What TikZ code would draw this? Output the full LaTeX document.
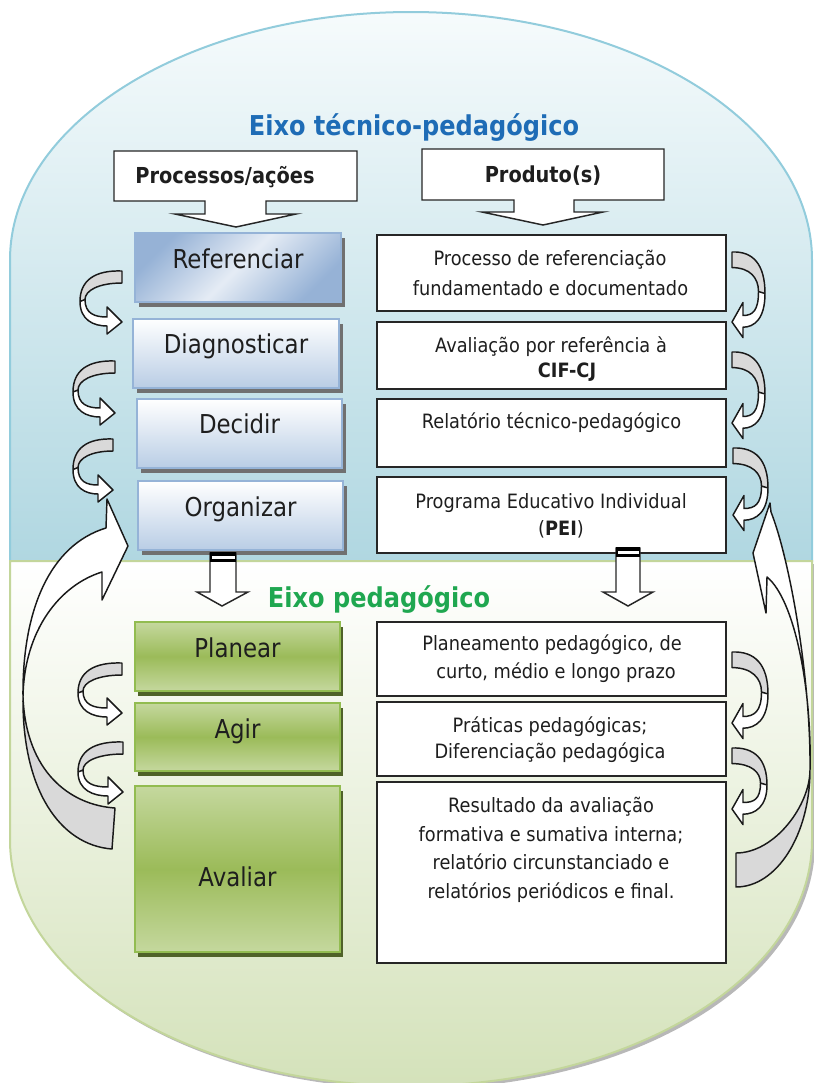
\documentclass[tikz,border=0pt]{standalone}
\usepackage{fontspec}
\setmainfont{DejaVu Sans}[FakeStretch=0.88]
\newfontfamily\prodfont{DejaVu Sans}[FakeStretch=0.9]
\usetikzlibrary{shadows}
\definecolor{bluetop}{RGB}{246,251,252}
\definecolor{bluebot}{RGB}{176,215,225}
\definecolor{blueedge}{RGB}{146,204,220}
\definecolor{greenbot}{RGB}{212,226,186}
\definecolor{greenedge}{RGB}{195,214,155}
\definecolor{titleblue}{RGB}{30,108,182}
\definecolor{titlegreen}{RGB}{31,167,80}
\definecolor{pboxedge}{RGB}{149,179,215}
\definecolor{pboxbot}{RGB}{185,205,229}
\definecolor{pboxref}{RGB}{150,178,214}
\definecolor{gboxlight}{RGB}{197,216,158}
\definecolor{gboxmid}{RGB}{155,187,89}
\definecolor{gboxedge}{RGB}{146,188,80}
\definecolor{gshadow}{RGB}{79,98,40}
\definecolor{bshadow}{RGB}{112,112,112}
\definecolor{arrgray}{RGB}{217,217,217}
\definecolor{txt}{RGB}{30,30,30}

\tikzset{
  arrline/.style={draw=black!90, line width=1.1pt, line join=round},
  lbl/.style={font=\fontsize{19.5}{23}\selectfont, text=txt, anchor=base, inner sep=0pt},
  ptxt/.style={font=\prodfont\fontsize{14.8}{17}\selectfont, text=txt, anchor=base, inner sep=0pt},
  hdr/.style={font=\bfseries\fontsize{16.5}{20}\selectfont, text=txt, anchor=base, inner sep=0pt},
  ttl/.style={font=\bfseries\fontsize{20.5}{24}\selectfont, anchor=base, inner sep=0pt},
  pbox/.style={draw=pboxedge, line width=1.5pt, top color=white, bottom color=pboxbot,
    minimum width=154pt, minimum height=51.75pt, inner sep=0pt,
    drop shadow={shadow xshift=3pt, shadow yshift=-3.75pt, fill=bshadow, opacity=1}},
  refshade/.style={top color=pboxref, bottom color=pboxref, middle color=white!75!pboxref, shading angle=45},
  gbox/.style={draw=gboxedge, line width=1.5pt, top color=gboxlight, bottom color=gboxlight,
    middle color=gboxmid, minimum width=153.75pt, inner sep=0pt,
    drop shadow={shadow xshift=2.25pt, shadow yshift=-3.75pt, fill=gshadow, opacity=1}},
  prodbox/.style={draw=black!85, line width=1.2pt, fill=white, minimum width=261.75pt, inner sep=0pt},
  callout/.style={draw=black!85, line width=1.1pt, fill=white, line join=miter},
}

% U-turn block arrow: #1 direction (-1 bulge left, +1 bulge right), #2 tail x, #3 tail top y,
% #4 extreme x, #5 tip y, #6 scale, #7 head length
\newcommand\uarrow[7]{%
\begingroup
\pgfmathsetmacro\uaD{#1}%
\pgfmathsetmacro\uaT{#2}%
\pgfmathsetmacro\uaY{#3}%
\pgfmathsetmacro\uaE{#4}%
\pgfmathsetmacro\uaH{#5}%
\pgfmathsetmacro\uaS{#6}%
\pgfmathsetmacro\uaDep{abs(\uaE-\uaT)}%
\pgfmathsetmacro\uaW{12*\uaS}%
\pgfmathsetmacro\uaN{\uaT+\uaD*#7}%
\pgfmathsetmacro\uaM{(\uaY+\uaH)/2+5*\uaS}%
\pgfmathsetmacro\uaEi{\uaE-\uaD*5*\uaS}%
\pgfmathsetmacro\uaAx{\uaT+\uaD*0.64*\uaDep}%
\pgfmathsetmacro\uaAy{\uaY-1}%
\pgfmathsetmacro\uaBy{\uaY+0.3*(\uaM-\uaY)}%
\pgfmathsetmacro\uaCy{\uaH-0.1*(\uaH-\uaM)}%
\pgfmathsetmacro\uaNlo{\uaH+4*\uaS}%
\pgfmathsetmacro\uaDx{\uaN+\uaD*0.5*(\uaDep-#7)}%
\pgfmathsetmacro\uaBlo{\uaH+12*\uaS}%
\pgfmathsetmacro\uaBup{\uaH-15*\uaS}%
\pgfmathsetmacro\uaNup{\uaH-5*\uaS}%
\pgfmathsetmacro\uaEx{\uaN+\uaD*0.45*(\uaDep-#7)}%
\pgfmathsetmacro\uaFy{\uaM+0.6*(\uaH-\uaM)}%
\pgfmathsetmacro\uaMe{\uaM-2}%
\pgfmathsetmacro\uaGy{\uaY+\uaW+0.4*(\uaM-\uaY-\uaW)}%
\pgfmathsetmacro\uaHx{\uaT+\uaD*0.55*\uaDep}%
\pgfmathsetmacro\uaYw{\uaY+\uaW}%
\pgfmathsetmacro\uaYc{\uaM-1}%
\def\uapath{(\uaT,\uaY) .. controls (\uaAx,\uaAy) and (\uaE,\uaBy) .. (\uaE,\uaM)
  .. controls (\uaE,\uaCy) and (\uaDx,\uaNlo) .. (\uaN,\uaNlo) -- (\uaN,\uaBlo) -- (\uaT,\uaH)
  -- (\uaN,\uaBup) -- (\uaN,\uaNup) .. controls (\uaEx,\uaNup) and (\uaEi,\uaFy) .. (\uaEi,\uaMe)
  .. controls (\uaEi,\uaGy) and (\uaHx,\uaYw) .. (\uaT,\uaYw) -- cycle}%
\fill[white] \uapath;
\begin{scope}\clip (0,0) rectangle (814,\uaYc); \fill[arrgray] \uapath; \end{scope}
\draw[arrline] \uapath;
\draw[arrline] (\uaE,\uaM) -- (\uaEi,\uaMe);
\endgroup}

\begin{document}
\begin{tikzpicture}[x=0.75pt, y=-0.75pt]
\useasboundingbox (0,0) rectangle (814,1083);

% ---------- background regions ----------
\fill[black!35, opacity=0.8] (13,564) -- (815,564) -- (815,843) .. controls (815,980) and (635.5,1089) .. (414,1089)
  .. controls (192.5,1089) and (13,980) .. (13,843) -- cycle;
\path[draw=blueedge, line width=1.5pt, top color=bluetop, bottom color=bluebot]
  (10,561) -- (10,260) .. controls (10,123) and (189.5,12) .. (411,12)
  .. controls (632.5,12) and (812,123) .. (812,260) -- (812,561) -- cycle;
\path[draw=greenedge, line width=1.5pt, top color=white, bottom color=greenbot]
  (10,561) -- (812,561) -- (812,840) .. controls (812,976) and (632.5,1086) .. (411,1086)
  .. controls (189.5,1086) and (10,976) .. (10,840) -- cycle;

% ---------- titles ----------
\node[ttl, text=titleblue] (ttech) at (414,135) {Eixo técnico-pedagógico};
\node[ttl, text=titlegreen] (tped) at (379,607) {Eixo pedagógico};

% ---------- header callouts ----------
\draw[callout] (114,151) -- (357,151) -- (357,201) -- (266,201) -- (266,214) -- (296,214)
  -- (236,227) -- (175,214) -- (205,214) -- (205,201) -- (114,201) -- cycle;
\node[hdr] (hproc) at (225,183) {Processos/ações};
\draw[callout] (422,149) -- (664,149) -- (664,200) -- (574,200) -- (574,212) -- (603,212)
  -- (543,225) -- (482,212) -- (514,212) -- (514,200) -- (422,200) -- cycle;
\node[hdr] (hprod) at (543,182) {Produto(s)};

% ---------- process boxes (blue) ----------
\node[pbox, refshade] (ref) at (238,267.5) {};
\node[pbox] (diag) at (236,353) {};
\node[pbox] (dec) at (239.5,433.5) {};
\node[pbox] (org) at (240.5,515.5) {};
\node[lbl] (tref) at (238,268) {Referenciar};
\node[lbl] (tdiag) at (236,353) {Diagnosticar};
\node[lbl] (tdec) at (239.5,433) {Decidir};
\node[lbl] (torg) at (240.5,516.5) {Organizar};

% ---------- process boxes (green) ----------
\node[gbox, minimum height=51.75pt] (plan) at (237.5,656.5) {};
\node[gbox, minimum height=51pt] (agir) at (237.5,737) {};
\node[gbox, minimum height=124.5pt] (aval) at (237.5,869) {};
\node[lbl] (tplan) at (237.5,657) {Planear};
\node[lbl] (tagir) at (237.5,738) {Agir};
\node[lbl] (taval) at (237.5,886) {Avaliar};

% ---------- product boxes ----------
\node[prodbox, minimum height=57pt] (p1) at (551.5,273) {};
\node[prodbox, minimum height=50.25pt] (p2) at (551.5,355.5) {};
\node[prodbox, minimum height=51pt] (p3) at (551.5,433) {};
\node[prodbox, minimum height=57pt] (p4) at (551.5,515) {};
\node[prodbox, minimum height=55.5pt] (p5) at (551.5,659) {};
\node[prodbox, minimum height=55.5pt] (p6) at (551.5,739) {};
\node[prodbox, minimum height=135.75pt] (p7) at (551.5,872.5) {};

\node[ptxt] (p1a) at (550,265) {Processo de referenciação};
\node[ptxt] (p1b) at (550.5,295) {fundamentado e documentado};
\node[ptxt] (p2a) at (551,352) {Avaliação por referência à};
\node[ptxt] (p2b) at (567,377) {\textbf{CIF-CJ}};
\node[ptxt] (p3a) at (551.5,428) {Relatório técnico-pedagógico};
\node[ptxt] (p4a) at (551,508) {Programa Educativo Individual};
\node[ptxt] (p4b) at (561,535) {(\textbf{PEI})};
\node[ptxt] (p5a) at (552,650) {Planeamento pedagógico, de};
\node[ptxt] (p5b) at (556,678) {curto, médio e longo prazo};
\node[ptxt] (p6a) at (550,732) {Práticas pedagógicas;};
\node[ptxt] (p6b) at (550,758) {Diferenciação pedagógica};
\node[ptxt] (p7a) at (551,812) {Resultado da avaliação};
\node[ptxt] (p7b) at (551,841) {formativa e sumativa interna;};
\node[ptxt] (p7c) at (551,869) {relatório circunstanciado e};
\node[ptxt] (p7d) at (551,898) {relatórios periódicos e final.};

% ---------- down block arrows between the two axes ----------
\draw[callout] (210,553) -- (236,553) -- (236,592) -- (248,592) -- (222,606) -- (197,592) -- (210,592) -- cycle;
\fill[black] (210,552) rectangle (236,562);
\fill[white] (211.5,555.5) rectangle (234.5,558.5);
\draw[callout] (616,548) -- (640,548) -- (640,592) -- (653,592) -- (628,606) -- (603,592) -- (616,592) -- cycle;
\fill[black] (616,547) rectangle (640,557);
\fill[white] (617.5,550.5) rectangle (638.5,553.5);

% ---------- big return arrows ----------
\def\bigLpath{(107,499) -- (128,546) -- (102,600) -- (102,572)
  .. controls (60,585) and (24,630) .. (23,697) .. controls (22,790) and (60,845) .. (112,849)
  -- (115,808) .. controls (70,805) and (26,772) .. (23,697) .. controls (22,610) and (50,545) .. (106,528) -- cycle}
\fill[arrgray] \bigLpath;
\begin{scope}\clip (0,0) rectangle (814,697); \fill[white] \bigLpath; \end{scope}
\draw[arrline] \bigLpath;

\def\bigRpath{(770,503) -- (753,553) -- (766,613) -- (767,577)
  .. controls (795,600) and (812,690) .. (810,770) .. controls (810,834.6) and (776.8,887) .. (736,887)
  -- (736,853) .. controls (775,853) and (810,805) .. (810,770) .. controls (811,680) and (790,560) .. (771,512) -- cycle}
\fill[arrgray] \bigRpath;
\begin{scope}\clip (0,0) rectangle (814,770); \fill[white] \bigRpath; \end{scope}
\draw[arrline] \bigRpath;

% ---------- small U-turn arrows ----------
\uarrow{-1}{122}{271}{80}{322}{1}{15}
\uarrow{-1}{115}{361}{73}{413}{1}{15}
\uarrow{-1}{113}{439}{73}{490}{1}{15}
\uarrow{-1}{122}{663}{78}{713}{1}{15}
\uarrow{-1}{123}{742}{78}{792}{1}{15}
\uarrow{1}{732}{252}{765}{322}{1.3}{11}
\uarrow{1}{732}{352}{765}{423}{1.3}{11}
\uarrow{1}{733}{448}{768}{515}{1.3}{11}
\uarrow{1}{732}{652}{768}{723}{1.3}{11}
\uarrow{1}{732}{748}{767}{809}{1.3}{11}

\end{tikzpicture}
\end{document}
